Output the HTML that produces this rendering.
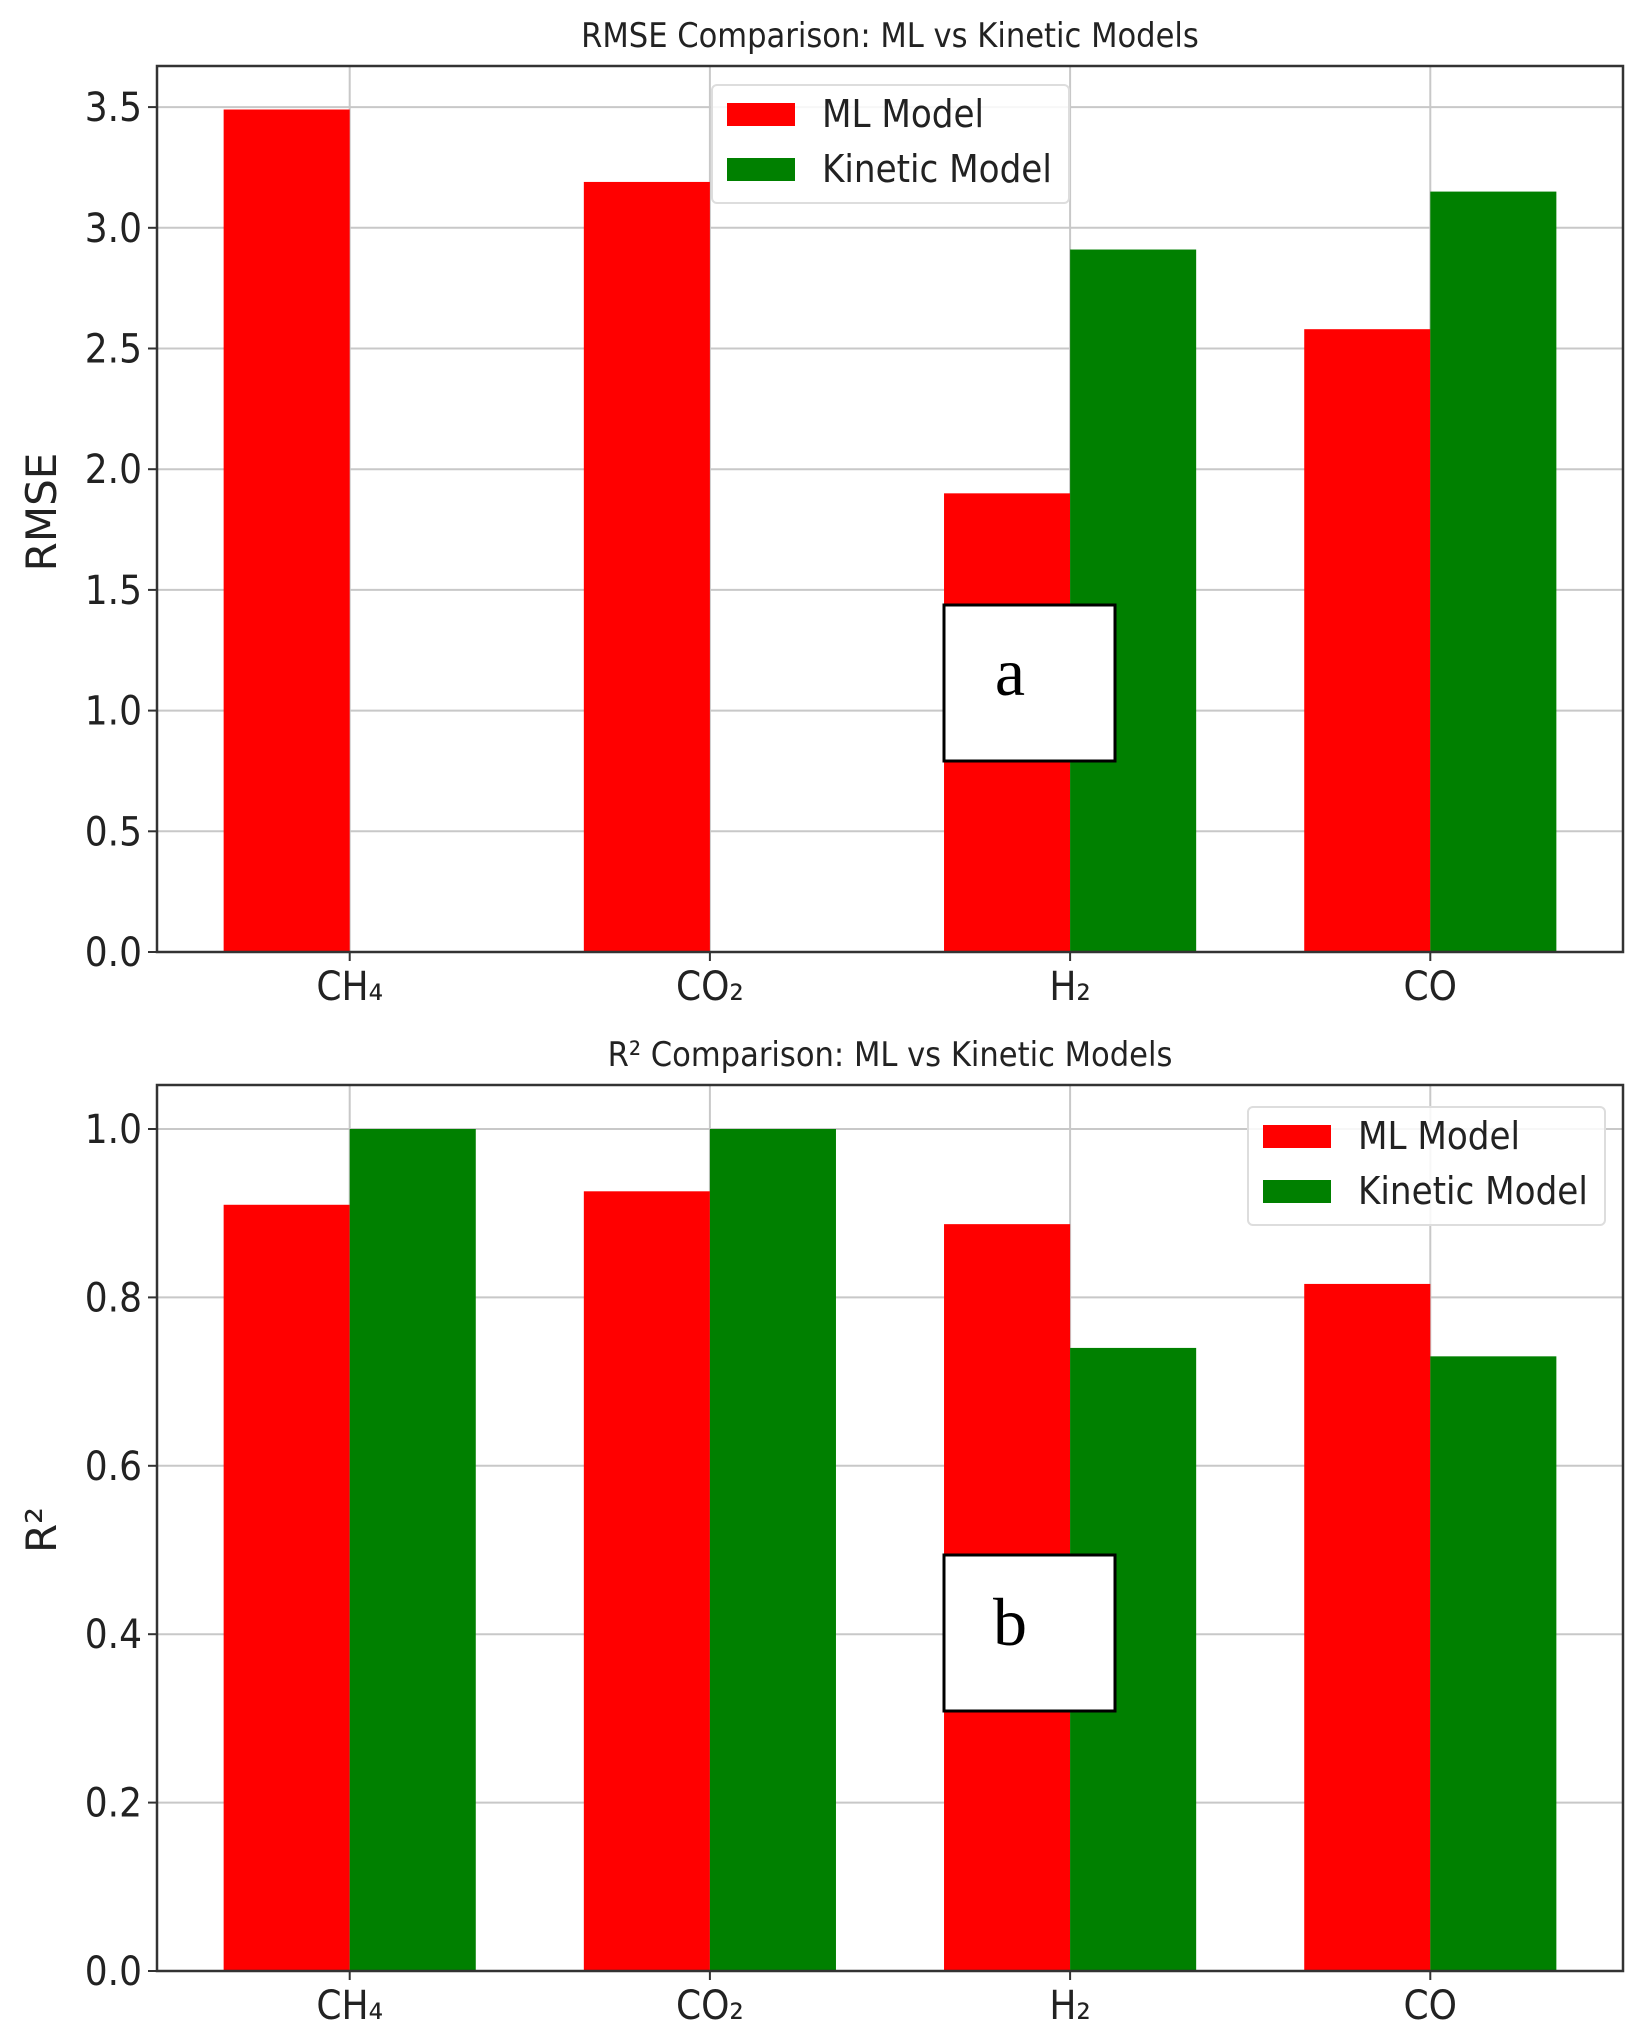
<!DOCTYPE html>
<html><head><meta charset="utf-8"><style>
html,body{margin:0;padding:0;background:#fff;}
svg{display:block;}
text{font-family:"DejaVu Sans Condensed","DejaVu Sans","Liberation Sans",sans-serif;fill:#222;}
</style></head><body>
<svg id="chart" width="1634" height="2037" viewBox="0 0 1634 2037"></svg>
<script>
const categories = ["CH\u2084", "CO\u2082", "H\u2082", "CO"];
const rmseML = [3.49, 3.19, 1.90, 2.58];
const rmseKinetic = [0, 0, 2.91, 3.15];
const r2ML = [0.91, 0.926, 0.887, 0.816];
const r2Kinetic = [1.0, 1.0, 0.74, 0.73];
const rmseTicks = ["0.0","0.5","1.0","1.5","2.0","2.5","3.0","3.5"];
const r2Ticks = ["0.0","0.2","0.4","0.6","0.8","1.0"];
const seriesNames = ["ML Model", "Kinetic Model"];

const NS = "http://www.w3.org/2000/svg";
const svg = document.getElementById("chart");
function mk(tag, attrs, parent) {
  const e = document.createElementNS(NS, tag);
  for (const k in attrs) e.setAttribute(k, attrs[k]);
  (parent || svg).appendChild(e);
  return e;
}

function panel(cfg) {
  const g = mk("g", {});
  
  
  const L = 157, R = 1623, xmin = -0.535, xmax = 3.535;
  const xs = v => L + (v - xmin) / (xmax - xmin) * (R - L);
  const ys = v => cfg.y0 - v * cfg.unit;
  cfg.ticks.forEach(t => {
    const y = ys(parseFloat(t));
    mk("line", {x1:L, x2:R, y1:y, y2:y, stroke:"#c8c8c8", "stroke-width":2}, g);
  });
  categories.forEach((c, i) => {
    mk("line", {x1:xs(i), x2:xs(i), y1:cfg.top, y2:cfg.y0, stroke:"#c8c8c8", "stroke-width":2}, g);
  });
  const w = 0.35;
  categories.forEach((c, i) => {
    const a = cfg.ml[i], b = cfg.kin[i];
    const r1 = mk("rect", {x:xs(i - w), y:ys(a), width:xs(i) - xs(i - w), height:cfg.y0 - ys(a), fill:"#ff0000"}, g);
    
    
    if (b > 0) {
      const r2 = mk("rect", {x:xs(i), y:ys(b), width:xs(i + w) - xs(i), height:cfg.y0 - ys(b), fill:"#008000"}, g);
      
      
    }
    mk("line", {x1:xs(i), x2:xs(i), y1:cfg.y0, y2:cfg.y0 + 9, stroke:"#333", "stroke-width":2}, g);
    const t = mk("text", {x:xs(i), y:cfg.y0 + 48, "text-anchor":"middle", "font-size":40}, g);
    t.textContent = c;
    
    
  });
  cfg.ticks.forEach(tk => {
    const y = ys(parseFloat(tk));
    mk("line", {x1:L - 9, x2:L, y1:y, y2:y, stroke:"#333", "stroke-width":2}, g);
    const t = mk("text", {x:L - 15, y:y + 14, "text-anchor":"end", "font-size":40}, g);
    t.textContent = tk;
    
    
  });
  mk("rect", {x:L, y:cfg.top, width:R - L, height:cfg.y0 - cfg.top, fill:"none", stroke:"#333", "stroke-width":2.5}, g);
  const tt = mk("text", {x:(L + R) / 2, y:cfg.top - 19, "text-anchor":"middle", "font-size":34}, g);
  tt.textContent = cfg.title;
  
  
  const yl = mk("text", {x:0, y:0, "text-anchor":"middle", "font-size":42, style:"font-family:'DejaVu Sans',sans-serif", transform:"translate(56," + cfg.ylabelY + ") rotate(-90)"}, g);
  yl.textContent = cfg.ylabel;
  
  
  const lg = mk("g", {}, g);
  
  
  mk("rect", {x:cfg.lx, y:cfg.ly, width:357, height:118, rx:5, fill:"#fff", "fill-opacity":0.85, stroke:"#ddd", "stroke-width":2}, lg);
  ["#ff0000", "#008000"].forEach((col, k) => {
    mk("rect", {x:cfg.lx + 15, y:cfg.ly + 18 + k * 55, width:68, height:23, fill:col}, lg);
    const t = mk("text", {x:cfg.lx + 110, y:cfg.ly + 42 + k * 55, "font-size":38}, lg);
    t.textContent = seriesNames[k];
    
    
  });
  const ab = mk("g", {}, g);
  
  
  mk("rect", {x:944, y:cfg.by, width:171, height:156, fill:"#fff", stroke:"#000", "stroke-width":3}, ab);
  const at = mk("text", {x:1010, y:cfg.by + 90, "text-anchor":"middle", "font-size":68, style:"font-family:'Liberation Serif',serif;fill:#000"}, ab);
  at.textContent = cfg.letter;
}

panel({name:"rmse-panel", title:"RMSE Comparison: ML vs Kinetic Models", ylabel:"RMSE",
  ml:rmseML, kin:rmseKinetic, ticks:rmseTicks, y0:952, unit:241.4, top:66, ylabelY:512,
  lx:712, ly:85, by:605, letter:"a"});
panel({name:"r2-panel", title:"R\u00b2 Comparison: ML vs Kinetic Models", ylabel:"R\u00b2",
  ml:r2ML, kin:r2Kinetic, ticks:r2Ticks, y0:1971, unit:842, top:1085, ylabelY:1530,
  lx:1248, ly:1107, by:1555, letter:"b"});
</script>
</body></html>
